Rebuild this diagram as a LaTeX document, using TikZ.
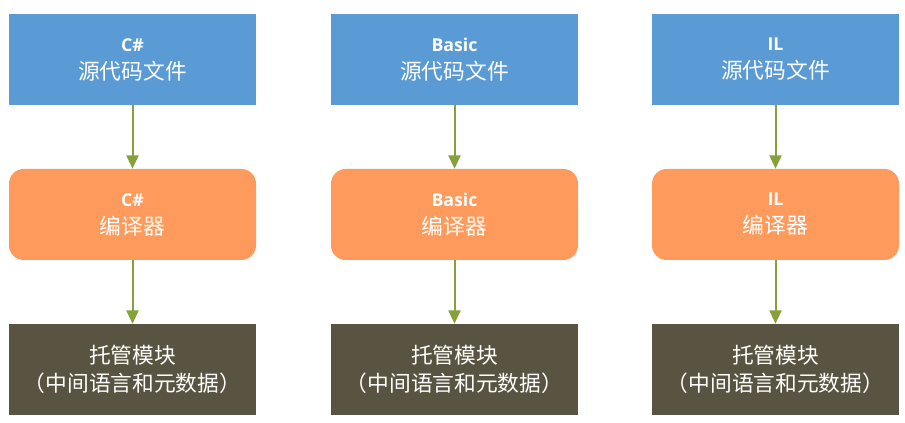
\documentclass[tikz,border=0pt]{standalone}
\usepackage{fontspec}
\setmainfont{Open Sans}
\newfontfamily\cjk{Noto Sans CJK SC}
\usetikzlibrary{arrows.meta}
\definecolor{cblue}{HTML}{5B9BD5}
\definecolor{corange}{HTML}{FE9A5B}
\definecolor{cdark}{HTML}{595441}
\definecolor{carrow}{HTML}{86A03A}
\tikzset{
  boxbase/.style={minimum width=185.25pt, minimum height=68.25pt, inner sep=0pt, text=white, align=center, font=\fontsize{16.3pt}{21pt}\selectfont},
  srcbox/.style={boxbase, fill=cblue},
  compbox/.style={boxbase, fill=corange, rounded corners=11pt},
  modbox/.style={boxbase, fill=cdark},
  flow/.style={draw=carrow, line width=1.5pt, -{Triangle[width=9pt,length=10pt]}}
}
\newcommand{\lt}[1]{{\fontsize{13.3pt}{21pt}\selectfont\bfseries #1}}
\begin{document}
\begin{tikzpicture}[x=0.75pt,y=-0.75pt]
\useasboundingbox (0,0) rectangle (905,423);
\node[srcbox] (s1) at (132.5,59.5) {\lt{C\#}\\{\cjk 源代码文件}};
\node[srcbox] (s2) at (454.5,59.5) {\lt{Basic}\\{\cjk 源代码文件}};
\node[srcbox] (s3) at (775.5,59.5) {\lt{IL}\\{\cjk 源代码文件}};
\node[compbox] (c1) at (132.5,214.5) {\lt{C\#}\\{\cjk 编译器}};
\node[compbox] (c2) at (454.5,214.5) {\lt{Basic}\\{\cjk 编译器}};
\node[compbox] (c3) at (775.5,214.5) {\lt{IL}\\{\cjk 编译器}};
\node[modbox] (m1) at (132.5,369.5) {\cjk 托管模块\\\cjk （中间语言和元数据）};
\node[modbox] (m2) at (454.5,369.5) {\cjk 托管模块\\\cjk （中间语言和元数据）};
\node[modbox] (m3) at (775.5,369.5) {\cjk 托管模块\\\cjk （中间语言和元数据）};
\foreach \i in {1,2,3}{
  \draw[flow] (s\i) -- (c\i);
  \draw[flow] (c\i) -- (m\i);
}
\end{tikzpicture}
\end{document}
